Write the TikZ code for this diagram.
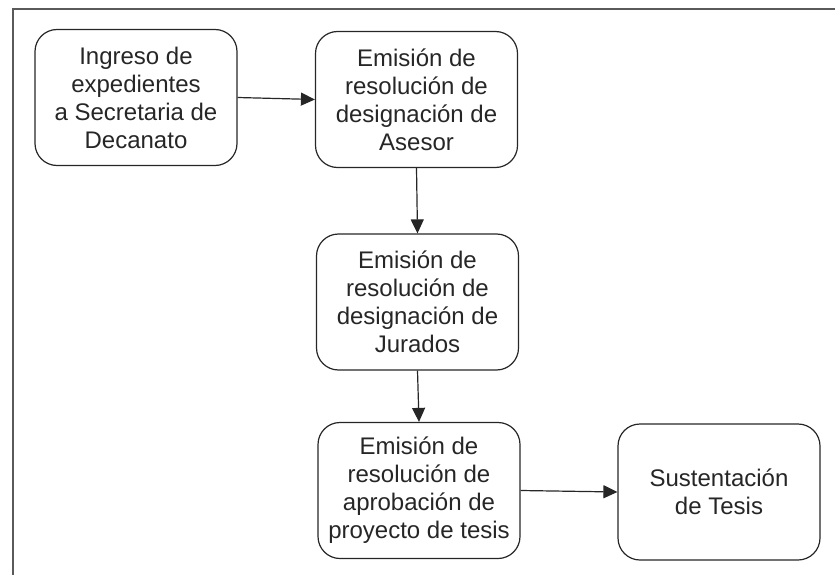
\documentclass[tikz,border=0pt]{standalone}
\usepackage{fontspec}
\setmainfont{Liberation Sans}
\usepackage{tikz}
\usetikzlibrary{arrows.meta,positioning}
\definecolor{linea}{HTML}{262626}
\definecolor{marco}{HTML}{5A5A5A}

\begin{document}
\begin{tikzpicture}[x=1pt,y=-1pt,
  paso/.style={draw=linea,line width=1.2pt,rounded corners=22pt,
    minimum width=202pt,minimum height=136pt,inner sep=0pt,align=center,
    text=linea,font=\fontsize{24}{28}\selectfont},
  flecha/.style={draw=linea,line width=1.2pt,-{Triangle[length=14pt,width=13pt]}}]
\useasboundingbox (0,0) rectangle (835,575);
%marco exterior (solo se ven lado izquierdo y superior)
\draw[marco,line width=2pt] (13,575) -- (13,9) -- (835,9);
%pasos del proceso
\node[paso] (ingreso) at (136,97.5) {Ingreso de\\expedientes\\a Secretaria de\\Decanato};
\node[paso] (asesor) at (416.5,99.5) {Emisión de\\resolución de\\designación de\\Asesor};
\node[paso] (jurados) at (417.5,302) {Emisión de\\resolución de\\designación de\\Jurados};
\node[paso] (proyecto) at (419,490.5) {Emisión de\\resolución de\\aprobación de\\proyecto de tesis};
\node[paso] (sustentacion) at (719,492) {Sustentación\\de Tesis};
%flechas
\draw[flecha] (ingreso.east) -- (asesor.west);
\draw[flecha] (asesor.south) -- (jurados.north);
\draw[flecha] (jurados.south) -- (proyecto.north);
\draw[flecha] (proyecto.east) -- (sustentacion.west);
\end{tikzpicture}
\end{document}
